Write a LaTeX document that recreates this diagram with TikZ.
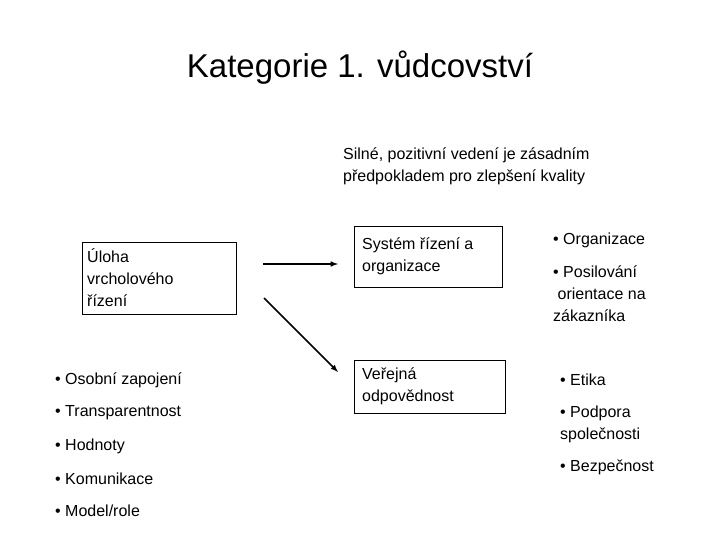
\documentclass[tikz,border=0pt]{standalone}
\usepackage{fontspec}
\setmainfont{Liberation Sans}
\begin{document}
\begin{tikzpicture}[x=1pt,y=-1pt,
  box/.style={draw,thick,anchor=north west,inner sep=0pt,text width=#1,align=left,font=\fontsize{16}{21}\selectfont},
  txt/.style={anchor=west,inner sep=0pt,align=left,font=\fontsize{16}{22}\selectfont},
  arr/.style={-latex,line width=1.5pt}]
\useasboundingbox (0,0) rectangle (720,540);
\node (title) at (360,68) {\fontsize{33}{38}\selectfont Kategorie 1. vůdcovství};
\node[txt] (sub) at (343,166) {Silné, pozitivní vedení je zásadním\\předpokladem pro zlepšení kvality};
\draw[thick] (82,242) rectangle (236,314);
\node[txt] (b1) at (87,278) {Úloha\\vrcholového\\řízení};
\draw[thick] (354,226) rectangle (502,287);
\node[txt] (b2) at (362,256) {Systém řízení a\\organizace};
\draw[thick] (354,360) rectangle (505,413);
\node[txt] (b3) at (362,386) {Veřejná\\odpovědnost};
\coordinate (a0) at (263,264);
\coordinate (a1) at (338,264);
\coordinate (c0) at (264,298);
\coordinate (c1) at (338,372);
\draw[arr] (a0) -- (a1);
\draw[arr] (c0) -- (c1);
\node[txt] (l1) at (55,380) {• Osobní zapojení};
\node[txt] (l2) at (55,413) {• Transparentnost};
\node[txt] (l3) at (55,446) {• Hodnoty};
\node[txt] (l4) at (55,479) {• Komunikace};
\node[txt] (l5) at (55,511) {• Model/role};
\node[txt] (r1) at (553,240) {• Organizace};
\node[txt] (r2) at (553,294) {• Posilování\\\ orientace na\\zákazníka};
\node[txt] (r3) at (560,380) {• Etika};
\node[txt] (r4) at (560,424) {• Podpora\\společnosti};
\node[txt] (r5) at (560,467) {• Bezpečnost};
\end{tikzpicture}
\end{document}
